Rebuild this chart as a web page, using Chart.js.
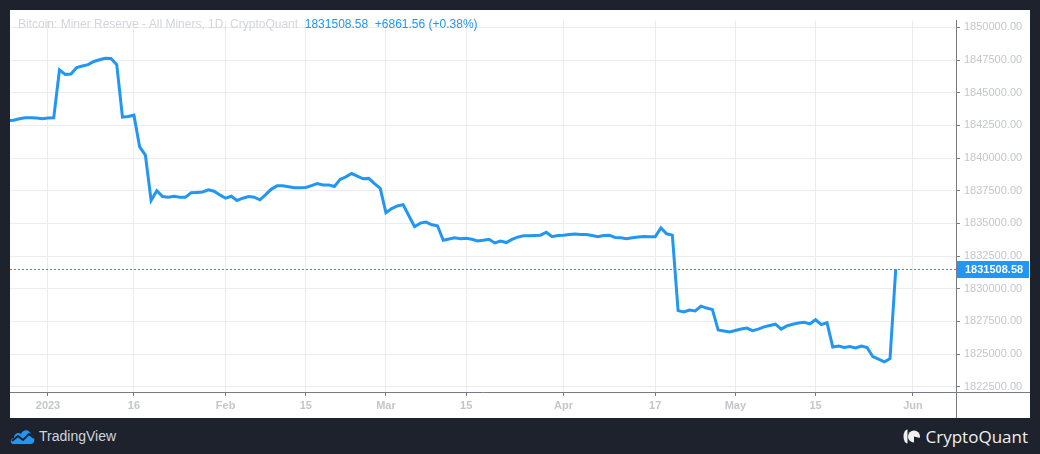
<!DOCTYPE html>
<html lang="en">
<head>
  <meta charset="UTF-8" />
  <title>Bitcoin: Miner Reserve - All Miners</title>
  <script src="https://cdn.jsdelivr.net/npm/chart.js"></script>
  <style>
    body {
      margin: 0;
      width: 1040px;
      height: 454px;
      overflow: hidden;
      background: #1e222d;
      font-family: 'Liberation Sans', Arial, sans-serif;
    }

    .panel {
      position: absolute;
      left: 10px;
      top: 10px;
      width: 1020px;
      height: 408px;
      background: #fff;
    }

    .legend {
      position: absolute;
      left: 8px;
      top: 7px;
      font-size: 12px;
      color: #d3d5da;
      white-space: pre;
    }

    .legend span {
      color: #2196f3;
    }

    .tv {
      position: absolute;
      left: 10px;
      top: 427px;
      display: flex;
      align-items: center;
      color: #d1d4dc;
      font-size: 14px;
    }

    .tv svg {
      margin-right: 3px;
    }

    .cq {
      position: absolute;
      right: 12px;
      top: 425px;
      display: flex;
      align-items: center;
      color: #f0f0f0;
      font-size: 17px;
      font-family: 'Open Sans', sans-serif;
    }

    .cq svg {
      margin-right: 6px;
    }
  </style>
</head>
<body>

  <div class="panel">
    <canvas id="reserveChart" width="1020" height="408"></canvas>
    <div class="legend">Bitcoin: Miner Reserve - All Miners, 1D, CryptoQuant  <span>1831508.58  +6861.56 (+0.38%)</span></div>
  </div>

  <div class="tv">
    <svg width="26" height="18" viewBox="0 0 26 18">
      <path d="M3 17 C0 17 0 11 4 11 C4 6 9 5 11 7 C13 2 20 2 21 8 C25 8 26 17 21 17 Z" fill="#2196f3"/>
      <polyline points="2,14 8,9 13,13 19,7 24,11" fill="none" stroke="#1e222d" stroke-width="2"/>
    </svg>
    TradingView
  </div>

  <div class="cq">
    <svg width="17" height="15" viewBox="0 0 17 15">
      <path d="M4.5 0.5 A4 7 0 0 0 4.5 14.5 Z" fill="#f0f0f0"/>
      <circle cx="11" cy="7.5" r="6" fill="#f0f0f0"/>
      <path d="M11 7.5 L17 9 L17 14 L11 14 Z" fill="#1e222d"/>
    </svg>
    CryptoQuant
  </div>

  <script>
    // daily values, first point is 2022-12-25 (day -7 from Jan 1)
    const startDay = -7;
    const reserve = [
      1842858, 1842895, 1843006, 1843081, 1843081, 1843060, 1843006, 1843058, 1843081, 1846749,
      1846406, 1846429, 1846927, 1847046, 1847150, 1847396, 1847522, 1847642, 1847619, 1847150,
      1843133, 1843178, 1843282, 1840849, 1840231, 1836757, 1837501, 1837054, 1837002, 1837077,
      1837002, 1837002, 1837352, 1837374, 1837404, 1837575, 1837464, 1837181, 1836928, 1837077,
      1836757, 1836928, 1837054, 1837002, 1836809, 1837203, 1837627, 1837873, 1837873, 1837798,
      1837724, 1837724, 1837746, 1837895, 1838044, 1837947, 1837947, 1837821, 1838371, 1838565,
      1838818, 1838617, 1838416, 1838446, 1838044, 1837687, 1835812, 1836139, 1836333, 1836437,
      1835589, 1834748, 1835023, 1835098, 1834897, 1834822, 1833706, 1833803, 1833907, 1833833,
      1833855, 1833781, 1833654, 1833706, 1833781, 1833506, 1833654, 1833535, 1833781, 1833952,
      1834056, 1834056, 1834078, 1834101, 1834324, 1833982, 1834078, 1834101, 1834153, 1834190,
      1834153, 1834153, 1834078, 1833982, 1834078, 1834101, 1833930, 1833907, 1833833, 1833907,
      1833952, 1834004, 1833982, 1833982, 1834651, 1834205, 1834101, 1828327, 1828223, 1828372,
      1828298, 1828670, 1828521, 1828402, 1826839, 1826765, 1826690, 1826810, 1826914, 1826988,
      1826787, 1826914, 1827085, 1827182, 1827286, 1826914, 1827159, 1827286, 1827382, 1827434,
      1827308, 1827628, 1827256, 1827405, 1825545, 1825619, 1825500, 1825574, 1825470, 1825619,
      1825500, 1824801, 1824607, 1824406, 1824647, 1831508.58
    ];

    // days since 2023-01-01 where the time axis is labelled
    const tickDays = [0, 15, 31, 45, 59, 73, 90, 106, 120, 134, 151];
    const tickLabels = ['2023', '16', 'Feb', '15', 'Mar', '15', 'Apr', '17', 'May', '15', 'Jun'];

    // price scale ticks
    const priceTicks = [1822500, 1825000, 1827500, 1830000, 1832500, 1835000,
                        1837500, 1840000, 1842500, 1845000, 1847500, 1850000];

    const lineColor = '#2196f3';
    const axisColor = '#787b86';
    const textColor = '#c4c6cc';
    const gridColor = '#ececf0';

    const points = reserve.map((v, i) => ({ x: startDay + i, y: v }));
    const lastValue = reserve[reserve.length - 1];

    const lastValuePlugin = {
      id: 'lastValue',
      beforeDatasetsDraw(chart) {
        const { ctx, chartArea } = chart;
        const py = Math.round(chart.scales.y.getPixelForValue(lastValue)) + 0.5;
        ctx.save();
        ctx.strokeStyle = lineColor;
        ctx.lineWidth = 1;
        ctx.setLineDash([2, 2]);
        ctx.beginPath();
        ctx.moveTo(chartArea.left, py);
        ctx.lineTo(chartArea.right, py);
        ctx.stroke();
        ctx.restore();
      },
      afterDraw(chart) {
        const { ctx, chartArea, width, height } = chart;
        ctx.save();
        // axis separators run through the whole panel
        ctx.strokeStyle = axisColor;
        ctx.lineWidth = 1;
        ctx.beginPath();
        ctx.moveTo(chartArea.right + 0.5, chartArea.bottom);
        ctx.lineTo(chartArea.right + 0.5, height);
        ctx.moveTo(chartArea.right, chartArea.bottom + 0.5);
        ctx.lineTo(width, chartArea.bottom + 0.5);
        ctx.stroke();

        const py = Math.round(chart.scales.y.getPixelForValue(lastValue));
        ctx.fillStyle = lineColor;
        ctx.fillRect(chartArea.right + 1, py - 8, width - chartArea.right - 2, 17);
        ctx.fillStyle = '#fff';
        ctx.font = 'bold 11px "Liberation Sans", Arial, sans-serif';
        ctx.textBaseline = 'middle';
        ctx.fillText(lastValue.toFixed(2), chartArea.right + 9, py + 1);
        ctx.restore();
      }
    };

    new Chart(document.getElementById('reserveChart').getContext('2d'), {
      type: 'line',
      data: {
        datasets: [{
          label: 'Miner Reserve',
          data: points,
          borderColor: lineColor,
          borderWidth: 3,
          pointRadius: 0,
          tension: 0,
          fill: false
        }]
      },
      options: {
        responsive: false,
        animation: false,
        layout: { padding: 0 },
        plugins: {
          legend: { display: false },
          tooltip: { enabled: false }
        },
        scales: {
          x: {
            type: 'linear',
            min: -6.634,
            max: 158.52,
            afterBuildTicks(scale) {
              scale.ticks = tickDays.map(d => ({ value: d }));
            },
            afterFit(scale) {
              scale.height = 26;
            },
            grid: {
              color: gridColor,
              tickColor: axisColor,
              tickLength: 4
            },
            border: { color: axisColor },
            ticks: {
              autoSkip: false,
              maxRotation: 0,
              padding: 3,
              color: textColor,
              font: { family: '"Liberation Sans", Arial, sans-serif', size: 11, weight: 'bold' },
              callback: (v) => tickLabels[tickDays.indexOf(v)]
            }
          },
          y: {
            position: 'right',
            min: 1822098,
            max: 1850521,
            afterBuildTicks(scale) {
              scale.ticks = priceTicks.map(v => ({ value: v }));
            },
            afterFit(scale) {
              scale.width = 74;
            },
            grid: {
              color: gridColor,
              tickColor: axisColor,
              tickLength: 4
            },
            border: { color: axisColor },
            ticks: {
              autoSkip: false,
              padding: 4,
              color: textColor,
              font: { family: '"Liberation Sans", Arial, sans-serif', size: 11 },
              callback: (v) => v.toFixed(2)
            }
          }
        }
      },
      plugins: [lastValuePlugin]
    });
  </script>
</body>
</html>
